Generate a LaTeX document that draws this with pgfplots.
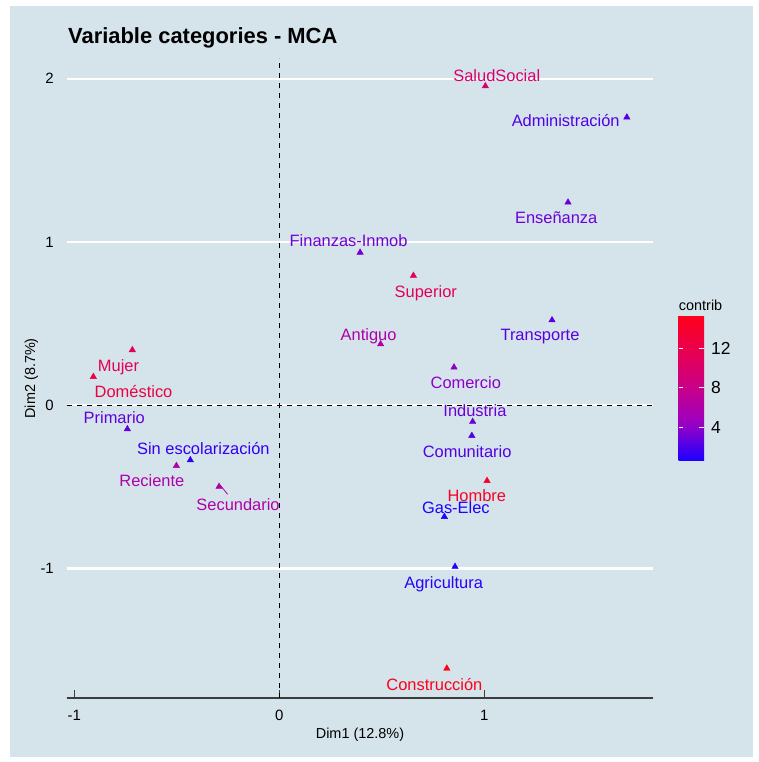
\documentclass[border=0pt]{standalone}
\usepackage{pgfplots}
\pgfplotsset{compat=1.18}
\usepackage{pgfplotstable}
\usepackage{fontspec}
\setmainfont{Liberation Sans}
\definecolor{bg}{HTML}{D5E4EB}
\definecolor{axgrey}{HTML}{3C3C3C}
\definecolor{secline}{RGB}{175,0,168}
\pgfplotsset{colormap={mca}{rgb255(0cm)=(30,0,255); rgb255(1cm)=(154,0,195); rgb255(2cm)=(201,0,137); rgb255(3cm)=(232,0,80); rgb255(4cm)=(255,0,25)}}
\begin{document}
\pgfplotstableread[col sep=comma]{
x,y,c,dx,dy,r,b,label
1.005,1.955,9.8,11.4,11,0.847,0.431,SaludSocial
1.695,1.764,2.2,-61.2,-3.2,0.322,0.902,Administración
1.408,1.243,3.0,-11.8,-14.7,0.427,0.851,Enseñanza
0.394,0.936,3.2,-11.5,12,0.451,0.839,Finanzas-Inmob
0.654,0.794,11,12.4,-16.3,0.886,0.357,Superior
0.494,0.375,6,-12,10,0.686,0.663,Antiguo
1.330,0.522,2.4,-12,-14.3,0.349,0.890,Transporte
0.852,0.233,4,11.8,-15.4,0.557,0.788,Comercio
0.943,-0.100,3,2.3,11,0.427,0.851,Industria
0.939,-0.186,2.2,-4.7,-16,0.322,0.902,Comunitario
1.013,-0.462,14.5,-10.2,-14.3,0.976,0.149,Hombre
0.805,-0.682,0.7,11.5,9.4,0.122,1.0,Gas-Elec
0.857,-0.988,1,-11.4,-16.3,0.161,0.980,Agricultura
0.817,-1.611,15.3,-12.4,-15.7,0.996,0.102,Construcción
-0.717,0.339,11.5,-13.8,-16,0.902,0.325,Mujer
-0.907,0.175,12.5,40.2,-14.3,0.929,0.267,Doméstico
-0.741,-0.145,2.7,-13.1,11.3,0.388,0.871,Primario
-0.434,-0.335,1.2,13,11.7,0.188,0.965,Sin escolarización
-0.502,-0.370,6,-24.5,-15,0.686,0.663,Reciente
-0.294,-0.498,6,19,-18.3,0.686,0.663,Secundario
}\mcadata
\begin{tikzpicture}
\useasboundingbox (0bp,0bp) rectangle (759bp,-762bp);
\fill[white] (0bp,0bp) rectangle (759bp,-762bp);
\fill[bg] (10bp,-6bp) rectangle (752.7bp,-757bp);
\begin{axis}[
  at={(66.7bp,-698.3bp)}, anchor=south west,
  scale only axis, width=586.6bp, height=640bp,
  xmin=-1.037, xmax=1.824, ymin=-1.794, ymax=2.125,
  clip=false,
  axis x line*=bottom, axis y line*=left,
  x axis line style={-, draw=axgrey, line width=1.8bp},
  y axis line style={draw=none},
  xtick={-1,0,1}, xticklabels={-1,0,1},
  ytick={-1,0,1,2}, yticklabels={-1,0,1,2},
  tick align=inside, major tick length=8.3bp,
  xtick style={draw=axgrey, line width=1.4bp},
  ytick style={draw=none},
  ymajorgrids, major grid style={white, line width=2.3bp},
  tick label style={font=\fontsize{15}{15}\selectfont, inner sep=0pt},
  xticklabel style={anchor=north, yshift=-11.7bp},
  yticklabel style={anchor=east, xshift=-12.7bp},
  xlabel={Dim1 (12.8\%)}, ylabel={Dim2 (8.7\%)},
  label style={font=\fontsize{14.5}{14.5}\selectfont, inner sep=0pt},
  xlabel style={at={(axis description cs:0.5,-0.05625)}, anchor=center},
  ylabel style={at={(axis description cs:-0.06035,0.5)}, anchor=center},
  title={Variable categories - MCA},
  every axis title/.style={at={(axis description cs:0.00222,1.0239)}, anchor=base west, font=\fontsize{22}{22}\selectfont\bfseries, inner sep=0pt},
  colormap name=mca, point meta min=0.66, point meta max=15.4,
  colorbar,
  colorbar/width=25.3bp,
  colorbar shift/.style={xshift=25.4bp, yshift=-256.7bp},
  colorbar style={
    at={(parent axis.north east)}, anchor=north west,
    height=145bp,
    axis line style={draw=none},
    axis on top,
    ytick={4,8,12}, yticklabels={4,8,12},
    ytick pos=both, yticklabel pos=right,
    tick align=inside, major tick length=4.7bp,
    ytick style={draw=white, line width=0.8bp},
    yticklabel style={font=\fontsize{17.5}{17.5}\selectfont, anchor=west, inner sep=0pt, xshift=7bp},
    title={contrib},
    every axis title/.style={at={(axis description cs:0,1.031)}, anchor=base west, font=\fontsize{14.5}{14.5}\selectfont, inner sep=0pt},
  },
]
\addplot[black, line width=1.1bp, dash pattern=on 5bp off 5bp] coordinates {(0,-1.794) (0,2.125)};
\addplot[black, line width=1.1bp, dash pattern=on 5bp off 5bp] coordinates {(-1.037,0) (1.824,0)};
\addplot[secline, line width=0.8bp, no markers] coordinates {(-0.289,-0.488) (-0.252,-0.545)};
\addplot[scatter, only marks, mark=triangle*, mark size=3.7bp,
  scatter/use mapped color={draw=mapped color, fill=mapped color},
  point meta=explicit,
] table[x=x, y=y, meta=c] {\mcadata};
\addplot[only marks, mark=*, mark size=0pt, mark options={draw=none, fill=none},
  point meta=explicit symbolic,
  visualization depends on={\thisrow{dx} \as \dx},
  visualization depends on={\thisrow{dy} \as \dy},
  visualization depends on={\thisrow{r} \as \rr},
  visualization depends on={\thisrow{b} \as \bb},
  nodes near coords,
  nodes near coords align=center,
  every node near coord/.append style={anchor=center, inner sep=0pt, xshift=\dx bp, yshift=\dy bp, font=\fontsize{16.5}{16.5}\selectfont, text height=12bp, text depth=0bp, execute at begin node={\definecolor{lc}{rgb}{\rr,0,\bb}\color{lc}}},
] table[x=x, y=y, meta=label] {\mcadata};
\end{axis}
\end{tikzpicture}
\end{document}
